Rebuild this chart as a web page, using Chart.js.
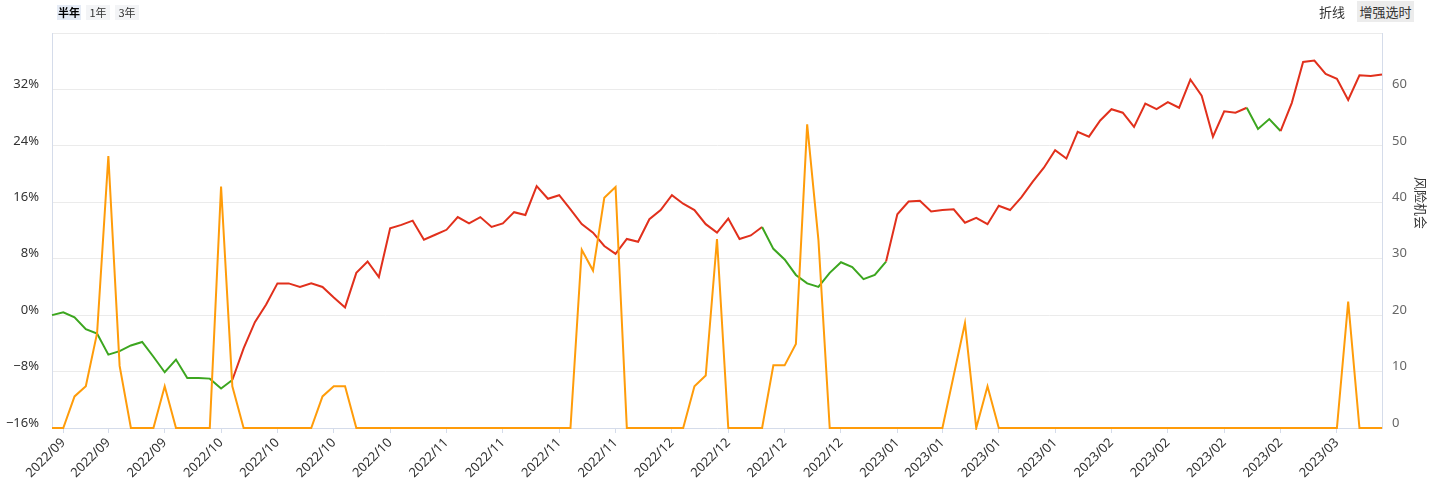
<!DOCTYPE html>
<html>
<head>
<meta charset="utf-8">
<script src="https://cdn.jsdelivr.net/npm/chart.js@4.4.0/dist/chart.umd.min.js"></script>
<style>
  body { margin: 0; background: #fff; font-family: 'Noto Sans CJK SC', 'Noto Sans', sans-serif; }
  #wrap { position: relative; width: 1429px; height: 499px; }
  .tabs { position: absolute; left: 57px; top: 5px; display: flex; gap: 5px; }
  .tab { width: 24px; height: 15px; line-height: 15px; text-align: center; font-size: 11px; color: #333; background: #f3f4f6; }
  .tab.on { background: #e5ebf5; font-weight: bold; color: #000; }
  .mode { position: absolute; top: 1px; font-size: 13px; color: #333; height: 21px; line-height: 21px; }
  #m1 { left: 1319px; }
  #m2 { left: 1357px; width: 57px; text-align: center; background: #ececec; }
</style>
</head>
<body>
<div id="wrap">
  <canvas id="myChart" width="1429" height="499"></canvas>
  <div class="tabs"><div class="tab on">半年</div><div class="tab">1年</div><div class="tab">3年</div></div>
  <div class="mode" id="m1">折线</div>
  <div class="mode" id="m2">增强选时</div>
</div>
<script>
const dates = [
  '2022/09/09','2022/09/13','2022/09/14','2022/09/15','2022/09/16',
  '2022/09/19','2022/09/20','2022/09/21','2022/09/22','2022/09/23',
  '2022/09/26','2022/09/27','2022/09/28','2022/09/29','2022/09/30',
  '2022/10/10','2022/10/11','2022/10/12','2022/10/13','2022/10/14',
  '2022/10/17','2022/10/18','2022/10/19','2022/10/20','2022/10/21',
  '2022/10/24','2022/10/25','2022/10/26','2022/10/27','2022/10/28',
  '2022/10/31','2022/11/01','2022/11/02','2022/11/03','2022/11/04',
  '2022/11/07','2022/11/08','2022/11/09','2022/11/10','2022/11/11',
  '2022/11/14','2022/11/15','2022/11/16','2022/11/17','2022/11/18',
  '2022/11/21','2022/11/22','2022/11/23','2022/11/24','2022/11/25',
  '2022/11/28','2022/11/29','2022/11/30','2022/12/01','2022/12/02',
  '2022/12/05','2022/12/06','2022/12/07','2022/12/08','2022/12/09',
  '2022/12/12','2022/12/13','2022/12/14','2022/12/15','2022/12/16',
  '2022/12/19','2022/12/20','2022/12/21','2022/12/22','2022/12/23',
  '2022/12/26','2022/12/27','2022/12/28','2022/12/29','2022/12/30',
  '2023/01/03','2023/01/04','2023/01/05','2023/01/06',
  '2023/01/09','2023/01/10','2023/01/11','2023/01/12','2023/01/13',
  '2023/01/16','2023/01/17','2023/01/18','2023/01/19','2023/01/20',
  '2023/01/30','2023/01/31','2023/02/01','2023/02/02','2023/02/03',
  '2023/02/06','2023/02/07','2023/02/08','2023/02/09','2023/02/10',
  '2023/02/13','2023/02/14','2023/02/15','2023/02/16','2023/02/17',
  '2023/02/20','2023/02/21','2023/02/22','2023/02/23','2023/02/24',
  '2023/02/27','2023/02/28','2023/03/01','2023/03/02','2023/03/03',
  '2023/03/06','2023/03/07','2023/03/08','2023/03/09','2023/03/10'
];

// 累计收益 %
const returns = [
  0.0, 0.4, -0.3, -2.0, -2.6, -5.6, -5.1, -4.3, -3.8, -5.9,
  -8.1, -6.3, -8.9, -8.9, -9.0, -10.4, -9.2, -4.7, -1.0, 1.5,
  4.5, 4.5, 4.0, 4.5, 4.0, 2.5, 1.1, 6.0, 7.6, 5.4,
  12.3, 12.8, 13.4, 10.7, 11.4, 12.1, 13.9, 13.0, 13.9, 12.5,
  13.0, 14.6, 14.2, 18.3, 16.5, 17.0, 15.0, 12.9, 11.7, 9.8,
  8.7, 10.8, 10.4, 13.6, 14.9, 17.0, 15.8, 14.9, 12.9, 11.7,
  13.7, 10.8, 11.3, 12.5, 9.4, 7.9, 5.7, 4.5, 4.0, 6.0,
  7.5, 6.8, 5.1, 5.7, 7.6, 14.3, 16.1, 16.2, 14.7, 14.9,
  15.0, 13.1, 13.8, 12.9, 15.5, 14.9, 16.7, 18.9, 20.9, 23.4,
  22.2, 26.0, 25.3, 27.6, 29.2, 28.7, 26.7, 30.0, 29.2, 30.2,
  29.4, 33.4, 31.1, 25.3, 28.9, 28.7, 29.4, 26.4, 27.8, 26.1,
  30.1, 35.9, 36.1, 34.2, 33.5, 30.5, 34.0, 33.9, 34.1
];

// 风险机会
const risk = [
  0, 0, 5.6, 7.4, 16.8, 48.2, 11.0, 0, 0, 0,
  7.4, 0, 0, 0, 0, 42.8, 7.4, 0, 0, 0,
  0, 0, 0, 0, 5.6, 7.4, 7.4, 0, 0, 0,
  0, 0, 0, 0, 0, 0, 0, 0, 0, 0,
  0, 0, 0, 0, 0, 0, 0, 31.6, 27.9, 40.8,
  42.7, 0, 0, 0, 0, 0, 0, 7.4, 9.3, 33.5,
  0, 0, 0, 0, 11.1, 11.1, 14.9, 53.8, 33.3, 0,
  0, 0, 0, 0, 0, 0, 0, 0, 0, 0,
  9.3, 18.6, 0, 7.4, 0, 0, 0, 0, 0, 0,
  0, 0, 0, 0, 0, 0, 0, 0, 0, 0,
  0, 0, 0, 0, 0, 0, 0, 0, 0, 0,
  0, 0, 0, 0, 0, 22.4, 0, 0, 0
];

// 偏空区间 (起点, 终点 index)
const bearSpans = [[0, 16], [63, 74], [106, 109]];

const leftTicks = [-16, -8, 0, 8, 16, 24, 32, 40];
const rightTicks = [0, 10, 20, 30, 40, 50, 60, 70];

const red = '#e1301c';
const green = '#3ca61f';
const orange = '#ff9c0a';
const axisc = '#d5dcea';
const gridc = '#ebebeb';

function isBear(i0, i1) {
  return bearSpans.some(s => i0 >= s[0] && i1 <= s[1]);
}

function weekStart(i) {
  if (i === 0) return false;
  const d = new Date(dates[i]), p = new Date(dates[i - 1]);
  return d.getDay() <= p.getDay() || (d - p) > 3 * 86400000;
}

const axisTitle = {
  id: 'axisTitle',
  afterDraw(chart) {
    const c = chart.ctx;
    c.save();
    c.translate(1421, 203);
    c.rotate(Math.PI / 2);
    c.font = '13px "Noto Sans CJK SC"';
    c.fillStyle = '#333';
    c.textAlign = 'center';
    c.textBaseline = 'middle';
    c.fillText('风险机会', 0, 0);
    c.restore();
  }
};

new Chart(document.getElementById('myChart'), {
  type: 'line',
  data: {
    labels: dates,
    datasets: [{
      label: '风险机会',
      data: risk,
      yAxisID: 'y1',
      borderColor: orange,
      borderWidth: 2,
      pointRadius: 0,
      tension: 0,
      clip: 2,
      order: 0
    }, {
      label: '收益',
      data: returns,
      yAxisID: 'y',
      borderColor: red,
      borderWidth: 2,
      pointRadius: 0,
      tension: 0,
      clip: 2,
      order: 1,
      segment: {
        borderColor: ctx => isBear(ctx.p0DataIndex, ctx.p1DataIndex) ? green : red
      }
    }]
  },
  options: {
    responsive: false,
    animation: false,
    devicePixelRatio: 1,
    layout: { padding: { top: 33, left: 0, right: 0, bottom: 0 } },
    scales: {
      x: {
        afterFit: s => { s.height = 71; },
        grid: { drawOnChartArea: false, drawTicks: true, tickLength: 5, color: axisc },
        border: { color: axisc, width: 1 },
        ticks: {
          autoSkip: false,
          maxRotation: 45,
          minRotation: 45,
          padding: 2,
          color: '#333',
          font: { size: 13, family: 'Noto Sans' },
          callback: function (v, i) {
            return weekStart(i) ? dates[i].slice(0, 7) : null;
          }
        }
      },
      y: {
        position: 'left',
        min: leftTicks[0],
        max: leftTicks[leftTicks.length - 1],
        afterFit: s => { s.width = 52; },
        afterBuildTicks: s => { s.ticks = leftTicks.map(v => ({ value: v })); },
        grid: { color: gridc, drawTicks: false },
        border: { color: axisc },
        ticks: {
          padding: 13,
          labelOffset: -5,
          color: '#333',
          font: { size: 13, family: 'Noto Sans' },
          callback: v => v === 40 ? '' : (v < 0 ? '\u2212' + Math.abs(v) : v) + '%'
        }
      },
      y1: {
        position: 'right',
        min: rightTicks[0],
        max: rightTicks[rightTicks.length - 1],
        afterFit: s => { s.width = 47; },
        afterBuildTicks: s => { s.ticks = rightTicks.map(v => ({ value: v })); },
        grid: { drawOnChartArea: false, drawTicks: false },
        border: { color: axisc },
        ticks: {
          padding: 10,
          labelOffset: -5,
          color: '#666',
          font: { size: 13, family: 'Noto Sans' },
          callback: v => v === 70 ? '' : v
        }
      }
    },
    plugins: {
      legend: { display: false },
      tooltip: { enabled: false }
    }
  },
  plugins: [axisTitle]
});
</script>
</body>
</html>
